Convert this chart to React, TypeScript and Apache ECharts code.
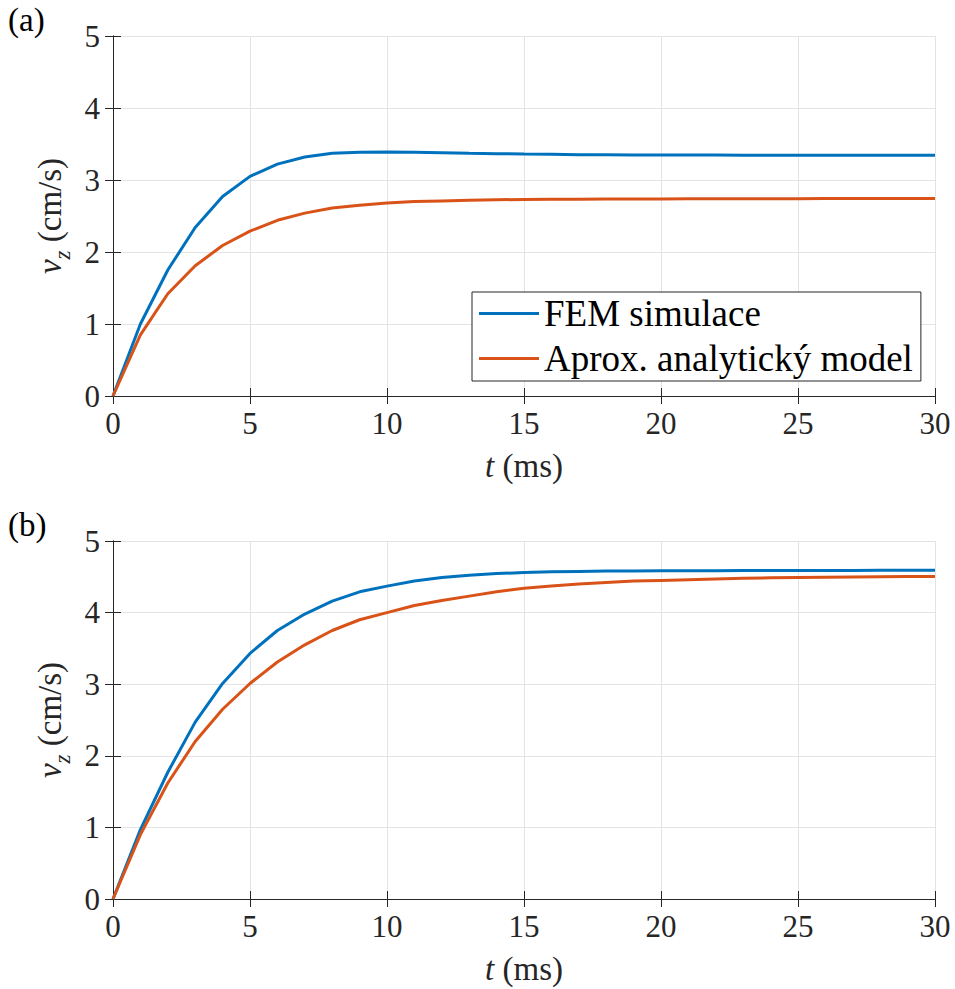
import React, { useEffect, useRef } from "react";
import * as echarts from "echarts";

const tMs = [0, 1, 2, 3, 4, 5, 6, 7, 8, 9, 10, 11, 12, 13, 14, 15, 16, 17, 18, 19, 20, 21, 22, 23, 24, 25, 26, 27, 28, 29, 30];

const femA = [0, 1.0, 1.75, 2.34, 2.77, 3.05, 3.22, 3.32, 3.37, 3.385, 3.39, 3.385, 3.38, 3.372, 3.366, 3.36, 3.356, 3.352, 3.35, 3.348, 3.347, 3.346, 3.346, 3.345, 3.345, 3.345, 3.345, 3.345, 3.345, 3.345, 3.345];
const aproxA = [0, 0.85, 1.42, 1.81, 2.09, 2.29, 2.44, 2.54, 2.61, 2.65, 2.68, 2.7, 2.71, 2.72, 2.725, 2.73, 2.732, 2.734, 2.735, 2.736, 2.737, 2.738, 2.739, 2.74, 2.74, 2.741, 2.742, 2.742, 2.743, 2.743, 2.744];
const femB = [0, 0.97, 1.77, 2.47, 3.01, 3.43, 3.75, 3.98, 4.16, 4.29, 4.37, 4.44, 4.49, 4.52, 4.545, 4.56, 4.57, 4.575, 4.58, 4.582, 4.584, 4.585, 4.586, 4.587, 4.588, 4.588, 4.589, 4.589, 4.59, 4.59, 4.59];
const aproxB = [0, 0.9, 1.62, 2.2, 2.65, 3.01, 3.31, 3.55, 3.75, 3.9, 4.0, 4.1, 4.17, 4.23, 4.29, 4.34, 4.37, 4.4, 4.42, 4.44, 4.45, 4.46, 4.47, 4.48, 4.485, 4.49, 4.494, 4.497, 4.5, 4.503, 4.505];

const seriesNames = ["FEM simulace", "Aprox. analytický model"];
const panelLabels = ["(a)", "(b)"];
const xName = "{i|t} (ms)";
const yName = "{v|v}{z|z}{n| (cm/s)}";

const FONT = "Liberation Serif";
const BLUE = "#0072BD";
const ORANGE = "#D95319";
const AXIS = "#262626";
const GRIDC = "#e3e3e3";

export default function App() {
  const ref = useRef<HTMLDivElement>(null);
  useEffect(() => {
    document.body.style.margin = "0";
    if (!ref.current) return;
    const chart = echarts.init(ref.current, undefined, { renderer: "svg" });
    const pairs = (ys: number[]) => tMs.map((t, i) => [t, ys[i]]);

    const grids = [
      { left: 113, top: 36, width: 822, height: 360 },
      { left: 113, top: 541, width: 822, height: 358 },
    ];

    const xAxes: any[] = [];
    const yAxes: any[] = [];
    grids.forEach((_, gi) => {
      xAxes.push({
        type: "value",
        gridIndex: gi,
        min: 0,
        max: 30,
        interval: 5,
        position: "bottom",
        name: xName,
        nameLocation: "middle",
        nameGap: 53,
        nameTextStyle: {
          fontFamily: FONT,
          fontSize: 33,
          color: AXIS,
          rich: {
            i: { fontFamily: FONT, fontSize: 33, fontStyle: "italic", color: AXIS },
          },
        },
        axisLine: { show: true, lineStyle: { color: AXIS, width: 1 } },
        axisTick: { show: true, inside: true, length: 8, lineStyle: { color: AXIS } },
        axisLabel: { fontFamily: FONT, fontSize: 31, color: AXIS, margin: 12 },
        splitLine: { show: true, lineStyle: { color: GRIDC, width: 1 } },
      });
      xAxes.push({
        type: "value",
        gridIndex: gi,
        min: 0,
        max: 30,
        interval: 5,
        position: "top",
        axisLine: { show: true, lineStyle: { color: AXIS, width: 1 } },
        axisTick: { show: true, inside: true, length: 8, lineStyle: { color: AXIS } },
        axisLabel: { show: false },
        splitLine: { show: false },
      });
      yAxes.push({
        type: "value",
        gridIndex: gi,
        min: 0,
        max: 5,
        interval: 1,
        position: "left",
        name: yName,
        nameLocation: "middle",
        nameGap: 33,
        nameTextStyle: {
          fontFamily: FONT,
          fontSize: 33,
          color: AXIS,
          rich: {
            v: { fontFamily: FONT, fontSize: 33, fontStyle: "italic", color: AXIS, padding: [0, 0, 7, 0], verticalAlign: "bottom" },
            z: { fontFamily: FONT, fontSize: 23, fontStyle: "italic", color: AXIS, verticalAlign: "bottom" },
            n: { fontFamily: FONT, fontSize: 33, color: AXIS, padding: [0, 0, 7, 0], verticalAlign: "bottom" },
          },
        },
        axisLine: { show: true, lineStyle: { color: AXIS, width: 1 } },
        axisTick: { show: true, inside: true, length: 8, lineStyle: { color: AXIS } },
        axisLabel: { fontFamily: FONT, fontSize: 31, color: AXIS, margin: 13 },
        splitLine: { show: true, lineStyle: { color: GRIDC, width: 1 } },
      });
      yAxes.push({
        type: "value",
        gridIndex: gi,
        min: 0,
        max: 5,
        interval: 1,
        position: "right",
        axisLine: { show: true, lineStyle: { color: AXIS, width: 1 } },
        axisTick: { show: true, inside: true, length: 8, lineStyle: { color: AXIS } },
        axisLabel: { show: false },
        splitLine: { show: false },
      });
    });

    const mk = (name: string, data: number[], color: string, gi: number) => ({
      type: "line",
      name,
      xAxisIndex: gi * 2,
      yAxisIndex: gi * 2,
      data: pairs(data),
      showSymbol: false,
      symbol: "none",
      lineStyle: { color, width: 3 },
      itemStyle: { color },
      z: 5,
    });

    chart.setOption({
      animation: false,
      backgroundColor: "#ffffff",
      textStyle: { fontFamily: FONT },
      grid: grids.map((g) => ({ ...g, containLabel: false })),
      xAxis: xAxes,
      yAxis: yAxes,
      legend: {
        show: true,
        orient: "vertical",
        left: 472,
        top: 292,
        data: seriesNames,
        icon: "rect",
        itemWidth: 60,
        itemHeight: 3,
        itemGap: 8,
        selectedMode: false,
        padding: [3, 8, 4, 7],
        borderColor: AXIS,
        borderWidth: 1,
        backgroundColor: "#ffffff",
        textStyle: { fontFamily: FONT, fontSize: 37, color: "#000000", padding: [0, 0, 0, 0] },
      },
      graphic: panelLabels.map((txt, i) => ({
        type: "text",
        left: 8,
        top: i === 0 ? 3 : 508,
        style: { text: txt, fontFamily: FONT, fontSize: 33, fill: "#000000" },
      })),
      series: [
        mk(seriesNames[0], femA, BLUE, 0),
        mk(seriesNames[1], aproxA, ORANGE, 0),
        mk(seriesNames[0], femB, BLUE, 1),
        mk(seriesNames[1], aproxB, ORANGE, 1),
      ],
    });
    return () => chart.dispose();
  }, []);
  return <div ref={ref} style={{ width: 955, height: 989 }} />;
}
